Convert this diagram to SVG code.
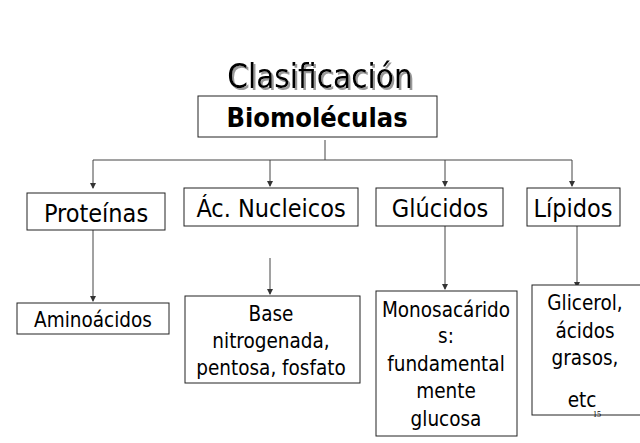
<svg xmlns="http://www.w3.org/2000/svg" width="640" height="443" viewBox="0 0 640 443">
<defs><marker id="a" markerWidth="6" markerHeight="6" refX="5" refY="3" orient="auto" markerUnits="userSpaceOnUse"><path d="M0,0L6,3L0,6z" fill="#333"/></marker>
<filter id="sh" x="-10%" y="-10%" width="120%" height="130%"><feDropShadow dx="2" dy="2" stdDeviation="0.5" flood-color="#999"/></filter></defs>
<style>
rect{fill:#fff;stroke:#222;stroke-width:1}
text{font-family:"DejaVu Sans Condensed","DejaVu Sans",sans-serif;text-anchor:middle;fill:#000}
.c line,.c path{stroke:#444;stroke-width:1;fill:none}
.m{font-size:25px}.s{font-size:20.5px}
</style>
<rect width="640" height="443" style="stroke:none"/>
<g id="title"><text x="320" y="88" font-size="33" filter="url(#sh)">Clasificación</text></g>
<g id="bio"><rect x="198" y="96" width="239" height="41"/><text x="317" y="127" font-size="27" font-weight="bold">Biomoléculas</text></g>
<g class="c">
<line x1="325" y1="140" x2="325" y2="160"/><line x1="93" y1="160" x2="572" y2="160"/>
<line x1="93" y1="160" x2="93" y2="188" marker-end="url(#a)"/>
<line x1="270" y1="160" x2="270" y2="186" marker-end="url(#a)"/>
<line x1="445" y1="160" x2="445" y2="186" marker-end="url(#a)"/>
<line x1="572" y1="160" x2="572" y2="186" marker-end="url(#a)"/>
<line x1="93" y1="230" x2="93" y2="301" marker-end="url(#a)"/>
<line x1="270" y1="258" x2="270" y2="294" marker-end="url(#a)"/>
<line x1="445" y1="226" x2="445" y2="289" marker-end="url(#a)"/>
<line x1="577" y1="226" x2="577" y2="287" marker-end="url(#a)"/>
</g>
<g id="prot"><rect x="27" y="193" width="138" height="37"/><text class="m" x="96" y="222">Proteínas</text></g>
<g id="acn"><rect x="184" y="188" width="174" height="38"/><text class="m" x="271" y="217">Ác. Nucleicos</text></g>
<g id="gluc"><rect x="376" y="188" width="127" height="38"/><text class="m" x="440" y="217">Glúcidos</text></g>
<g id="lip"><rect x="527" y="188" width="93" height="38"/><text class="m" x="573" y="217">Lípidos</text></g>
<g id="amino"><rect x="17" y="303" width="152" height="31"/><text class="s" x="93" y="327">Aminoácidos</text></g>
<g id="base"><rect x="185" y="296" width="175" height="87"/><text class="s" x="271" y="321">Base</text><text class="s" x="271" y="348">nitrogenada,</text><text class="s" x="271" y="375">pentosa, fosfato</text></g>
<g id="mono"><rect x="376" y="291" width="141" height="145"/><text class="s" x="446" y="317">Monosacárido</text><text class="s" x="446" y="343">s:</text><text class="s" x="446" y="371">fundamental</text><text class="s" x="446" y="398">mente</text><text class="s" x="446" y="426">glucosa</text></g>
<g id="glic"><rect x="532" y="285" width="110" height="130"/><text class="s" x="585" y="310">Glicerol,</text><text class="s" x="585" y="338">ácidos</text><text class="s" x="585" y="365">grasos,</text><text class="s" x="582" y="407">etc</text><text x="597" y="417" font-size="8" style="font-family:'Liberation Serif',serif">15</text></g>
</svg>
